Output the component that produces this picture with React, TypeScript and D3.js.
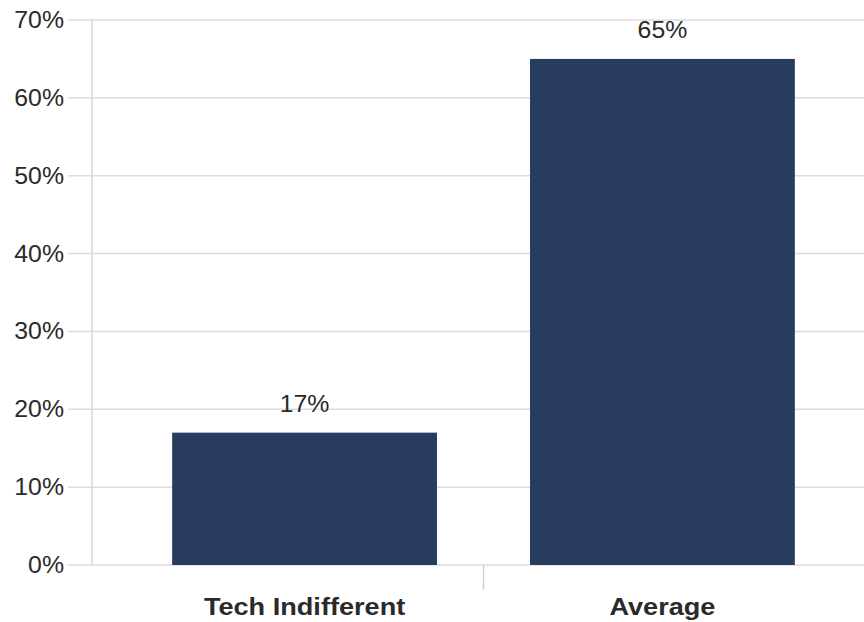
import React from "react";
import * as d3 from "d3";

const categories = ["Tech Indifferent", "Average"];
const values = [17, 65];
const yTicks = [0, 10, 20, 30, 40, 50, 60, 70];

const W = 864;
const H = 622;

export default function App() {
  const x = d3
    .scaleBand<string>()
    .domain(categories)
    .range([92, 875])
    .paddingInner(0.26)
    .paddingOuter(0.224);
  const y = d3.scaleLinear().domain([0, 70]).range([565, 20]);
  const font = "'Liberation Sans', Arial, sans-serif";
  const divider = (x(categories[0])! + x.bandwidth() + x(categories[1])!) / 2;

  return (
    <svg
      width={W}
      height={H}
      style={{ position: "absolute", left: 0, top: 0, background: "#fff" }}
      fontFamily={font}
    >
      {yTicks.map((t) => (
        <g key={t}>
          <line x1={68} x2={W} y1={y(t)} y2={y(t)} stroke="#dcdcdc" strokeWidth={1.5} />
          <text
            x={0}
            y={0}
            transform={`translate(64,${y(t) + 8}) scale(1.08,1)`}
            textAnchor="end"
            fontSize={23}
            fill="#2a2a2a"
          >
            {t}%
          </text>
        </g>
      ))}
      <line x1={92} x2={92} y1={y(70)} y2={y(0)} stroke="#d6d6d6" strokeWidth={1.5} />
      <line x1={divider} x2={divider} y1={y(0)} y2={590} stroke="#d0d0d0" strokeWidth={1.5} />
      {categories.map((c, i) => {
        const bx = x(c)!;
        const cx = bx + x.bandwidth() / 2;
        return (
          <g key={c}>
            <rect
              x={bx}
              y={y(values[i])}
              width={x.bandwidth()}
              height={y(0) - y(values[i])}
              fill="#283c5f"
            />
            <text
              transform={`translate(${cx},${y(values[i]) - 21}) scale(1.08,1)`}
              textAnchor="middle"
              fontSize={23}
              fill="#2a2a2a"
            >
              {values[i]}%
            </text>
            <text
              transform={`translate(${cx},615) scale(1.13,1)`}
              textAnchor="middle"
              fontSize={24}
              fontWeight="bold"
              fill="#2a2a2a"
            >
              {c}
            </text>
          </g>
        );
      })}
    </svg>
  );
}
